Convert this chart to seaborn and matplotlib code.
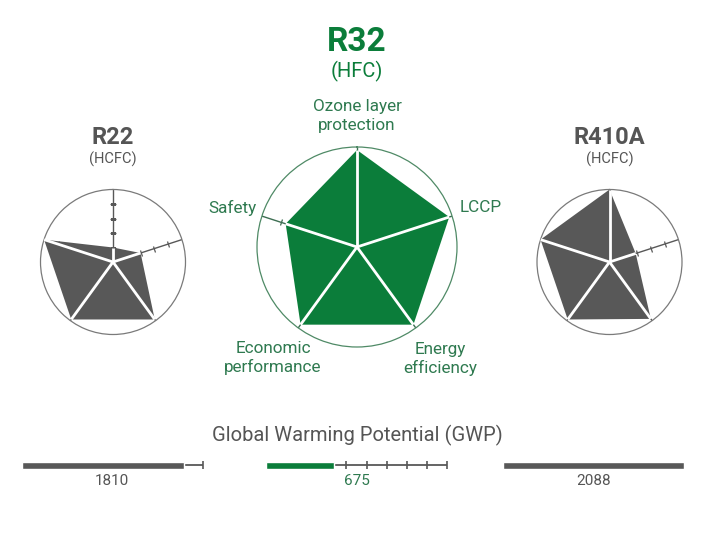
import numpy as np
import matplotlib
matplotlib.use("Agg")
import matplotlib.pyplot as plt
from matplotlib.markers import MarkerStyle
from matplotlib.transforms import Affine2D
import seaborn as sns

sns.set_theme(style="white")
plt.rcParams["font.family"] = ["Roboto", "DejaVu Sans"]

# radar data (0..1 scale), axes clockwise from top
criteria = ["Ozone layer\nprotection", "LCCP", "Energy\nefficiency",
            "Economic\nperformance", "Safety"]
r22_scores = [0.2, 0.4, 0.98, 0.98, 1.0]
r32_scores = [0.97, 0.97, 0.96, 0.96, 0.75]
r410a_scores = [1.0, 0.38, 0.97, 0.98, 1.0]

refrigerants = ["R22", "R32", "R410A"]
ref_types = ["(HCFC)", "(HFC)", "(HCFC)"]

# GWP
gwp_labels = [1810, 675, 2088]
gwp_drawn = [1610, 675, 1800]   # bar length as drawn on the 0-1800 gauge
gwp_max = 1800
gwp_ticks = [200, 400, 600, 800, 1000, 1200, 1400, 1600, 1800]

GREEN = "#0b7d3a"
GREEN_TXT = "#2f7a50"
GRAY = "#585858"
GRAY_TXT = "#555555"

W, H = 720, 555
fig = plt.figure(figsize=(W / 100, H / 100), dpi=100)


def px_box(cx, cy, r):
    return [(cx - r) / W, (H - cy - r) / H, 2 * r / W, 2 * r / H]


def radar(box, scores, fill, circle_color, line_color):
    ax = fig.add_axes(box, projection="polar")
    ax.set_theta_zero_location("N")
    ax.set_theta_direction(-1)
    ax.set_ylim(0, 1)
    ax.grid(False)
    ax.set_xticks([])
    ax.set_yticks([])
    ax.spines["polar"].set_color(circle_color)
    ax.spines["polar"].set_linewidth(0.9)
    n = len(scores)
    ang = np.arange(n) * 2 * np.pi / n
    # axis lines with ticks
    for a in ang:
        ax.plot([a, a], [0, 1], color=line_color, lw=1.0, zorder=1)
        rot = 90 - np.degrees(a)
        mk = MarkerStyle("|", transform=Affine2D().rotate_deg(rot))
        ax.plot([a] * 4, [0.2, 0.4, 0.6, 0.8], ls="none",
                marker=mk, ms=4.5, mew=0.9, color=line_color, zorder=1)
    closed_a = np.append(ang, ang[0])
    closed_r = np.append(scores, scores[0])
    ax.fill(closed_a, closed_r, color=fill, zorder=2, lw=0)
    for a, s in zip(ang, scores):
        ax.plot([a, a], [0, s], color="white", lw=2.0, zorder=3,
                solid_capstyle="butt")
    return ax


radar(px_box(113, 262, 72.5), r22_scores, GRAY, "#7a7a7a", GRAY)
radar(px_box(357, 247, 100), r32_scores, GREEN, "#4f8a66", "#3d6e52")
radar(px_box(609.5, 262, 72.5), r410a_scores, GRAY, "#7a7a7a", GRAY)

# titles
for name, kind, cx, cy, col, fs, fs2 in [
        (refrigerants[0], ref_types[0], 113, 138, GRAY_TXT, 17, 10.5),
        (refrigerants[1], ref_types[1], 357, 42, GREEN, 24, 14.5),
        (refrigerants[2], ref_types[2], 609.5, 138, GRAY_TXT, 17, 10.5)]:
    fig.text(cx / W, 1 - cy / H, name, ha="center", va="center",
             fontsize=fs, fontweight="bold", color=col)
    dy = 29 if name == "R32" else 21
    fig.text(cx / W, 1 - (cy + dy) / H, kind, ha="center", va="center",
             fontsize=fs2, color=col if name == "R32" else GRAY_TXT)

# criteria labels around R32
label_pos = [(357, 116), (481, 208), (440, 359), (273, 358), (232, 208)]
for lab, (x, y) in zip(criteria, label_pos):
    fig.text(x / W, 1 - y / H, lab, ha="center", va="center", fontsize=12.3,
             color=GREEN_TXT, linespacing=1.3)

# GWP gauges
fig.text(357 / W, 1 - 435 / H, "Global Warming Potential (GWP)", ha="center",
         va="center", fontsize=14.5, color=GRAY_TXT)
gauge_left = [21.7, 266, 503]
for i, (val, drawn, gx) in enumerate(zip(gwp_labels, gwp_drawn, gauge_left)):
    gax = fig.add_axes([gx / W, (H - 475) / H, 181 / W, 20 / H])
    gax.set_xlim(0, gwp_max)
    gax.set_ylim(-1, 1)
    gax.axis("off")
    gax.plot([0, gwp_max], [0, 0], color=GRAY, lw=1.3, zorder=1)
    vis = [t for t in gwp_ticks if t > drawn]
    if vis:
        gax.plot(vis, [0] * len(vis), ls="none", marker="|", ms=6,
                 mew=1.2, color=GRAY, zorder=1)
    col = GREEN if i == 1 else GRAY
    gax.barh([0], [drawn], height=0.7, color=col, zorder=2)
    fig.text((gx + 90.5) / W, 1 - 481 / H, str(val), ha="center", va="center",
             fontsize=11, color=GREEN_TXT if i == 1 else GRAY_TXT)

fig.savefig("out.png", dpi=100, facecolor="white")
